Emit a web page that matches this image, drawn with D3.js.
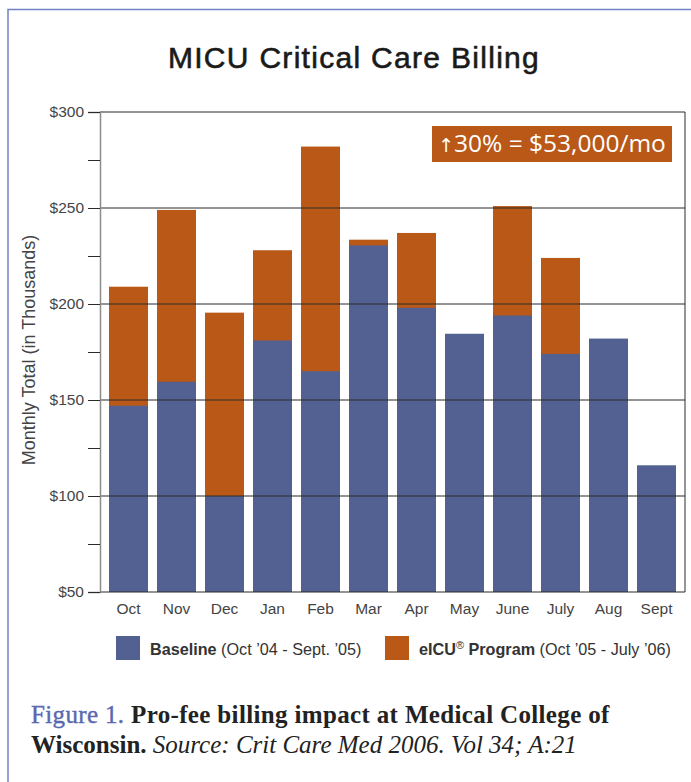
<!DOCTYPE html>
<html>
<head>
<meta charset="utf-8">
<script src="https://cdn.jsdelivr.net/npm/d3@7"></script>
<style>
  body { margin: 0; background: #fff; }
  svg { display: block; }
</style>
</head>
<body>
<div id="chart"></div>
<script>
// monthly totals, in thousands of dollars
const months = ["Oct", "Nov", "Dec", "Jan", "Feb", "Mar", "Apr", "May", "June", "July", "Aug", "Sept"];
const baseline = [147, 159.5, 100, 181, 165, 230.5, 198, 184.5, 194, 174, 182, 116];
const eicu = [209, 249, 195.5, 228, 282, 233.5, 237, null, 251, 224, null, null];
const majorTicks = [50, 100, 150, 200, 250, 300];
const minorTicks = [75, 125, 175, 225, 275];

const W = 691, H = 782;
const blue = "#526191", orange = "#b95817";
const sans = "'Liberation Sans', Arial, Helvetica, sans-serif";
const serif = "'Liberation Serif', 'Times New Roman', Times, serif";

const svg = d3.select("#chart").append("svg")
    .attr("width", W)
    .attr("height", H);

// outer frame (open on the right and bottom)
svg.append("path")
    .attr("d", `M8,${H} V9.5 H${W}`)
    .attr("fill", "none")
    .attr("stroke", "#7282c4")
    .attr("stroke-width", 1.5);

// title
svg.append("text")
    .attr("x", 354)
    .attr("y", 68)
    .attr("text-anchor", "middle")
    .style("font-family", sans)
    .attr("font-size", 30)
    .attr("letter-spacing", 1.3)
    .attr("fill", "#1a1a1a")
    .attr("stroke", "#1a1a1a")
    .attr("stroke-width", 0.6)
    .text("MICU Critical Care Billing");

const x = d3.scaleBand()
    .domain(months)
    .range([100, 685])
    .paddingInner(0.1875)
    .paddingOuter(0.1875);

const y = d3.scaleLinear()
    .domain([50, 300])
    .range([592, 112]);

// bars: eICU total behind, baseline in front
svg.append("g").selectAll("rect")
    .data(months.map((m, i) => ({ m, v: eicu[i] })).filter(d => d.v != null))
    .join("rect")
    .attr("x", d => x(d.m))
    .attr("width", x.bandwidth())
    .attr("y", d => y(d.v))
    .attr("height", d => y(50) - y(d.v))
    .attr("fill", orange);

svg.append("g").selectAll("rect")
    .data(months.map((m, i) => ({ m, v: baseline[i] })))
    .join("rect")
    .attr("x", d => x(d.m))
    .attr("width", x.bandwidth())
    .attr("y", d => y(d.v))
    .attr("height", d => y(50) - y(d.v))
    .attr("fill", blue);

// gridlines over the bars
svg.append("g").selectAll("line")
    .data(majorTicks)
    .join("line")
    .attr("x1", 100)
    .attr("x2", 685)
    .attr("y1", d => y(d))
    .attr("y2", d => y(d))
    .attr("stroke", "#2b2b2b")
    .attr("stroke-width", 1);

svg.append("line")
    .attr("x1", 685).attr("x2", 685)
    .attr("y1", y(300)).attr("y2", y(50))
    .attr("stroke", "#2b2b2b");

// y axis
const yAxis = svg.append("g")
    .attr("transform", "translate(100,0)")
    .call(d3.axisLeft(y).tickValues(majorTicks).tickSize(12).tickPadding(4).tickFormat(d => "$" + d));
yAxis.select(".domain").attr("stroke", "#8c8c8c").attr("stroke-width", 1.5);
yAxis.selectAll(".tick line").attr("stroke", "#2b2b2b");
yAxis.selectAll("text")
    .style("font-family", sans)
    .attr("font-size", 15.5)
    .attr("fill", "#444");

svg.append("g")
    .attr("transform", "translate(100,0)")
    .call(d3.axisLeft(y).tickValues(minorTicks).tickSize(12).tickFormat(""))
    .call(g => g.select(".domain").remove())
    .selectAll(".tick line").attr("stroke", "#2b2b2b");

svg.append("text")
    .attr("transform", "translate(35,350) rotate(-90)")
    .attr("text-anchor", "middle")
    .style("font-family", sans)
    .attr("font-size", 18)
    .attr("fill", "#444")
    .text("Monthly Total (in Thousands)");

// x labels
svg.append("g").selectAll("text")
    .data(months)
    .join("text")
    .attr("x", d => x(d) + x.bandwidth() / 2)
    .attr("y", 614)
    .attr("text-anchor", "middle")
    .style("font-family", sans)
    .attr("font-size", 15.5)
    .attr("fill", "#444")
    .text(d => d);

// annotation box
const note = svg.append("g");
note.append("rect")
    .attr("x", 432).attr("y", 126)
    .attr("width", 240).attr("height", 36)
    .attr("fill", orange);
const noteText = note.append("text")
    .attr("x", 552)
    .attr("y", 152)
    .attr("text-anchor", "middle")
    .style("font-family", "'Open Sans', sans-serif")
    .attr("font-size", 24.5)
    .attr("fill", "#fff");
noteText.append("tspan").style("font-family", "'DejaVu Sans', sans-serif").attr("font-size", 19).text("↑");
noteText.append("tspan").text("30% = $53,000/mo");

// legend
const legend = [
    { color: blue, x: 116, bold: "Baseline", sup: "", rest: " (Oct ’04 - Sept. ’05)" },
    { color: orange, x: 385, bold: "eICU", sup: "®", rest: " (Oct ’05 - July ’06)" }
];
const lg = svg.append("g").selectAll("g")
    .data(legend)
    .join("g")
    .attr("transform", d => `translate(${d.x},636)`);
lg.append("rect")
    .attr("width", 24).attr("height", 24)
    .attr("fill", d => d.color);
const lt = lg.append("text")
    .attr("x", 34)
    .attr("y", 19)
    .style("font-family", sans)
    .attr("font-size", 16.2)
    .attr("fill", "#333");
lt.append("tspan").attr("font-weight", "bold").text(d => d.bold);
lt.filter(d => d.sup).append("tspan")
    .attr("font-size", 11).attr("dy", -6).text(d => d.sup);
lt.filter(d => d.sup).append("tspan")
    .attr("font-weight", "bold").attr("dy", 6).text(" Program");
lt.append("tspan").text(d => d.rest);

// caption
const cap = svg.append("g")
    .style("font-family", serif)
    .attr("font-size", 25)
    .attr("fill", "#222");
const line1 = cap.append("text").attr("x", 31).attr("y", 723).attr("letter-spacing", 0.35);
line1.append("tspan").attr("fill", "#5a68b0")
    .attr("stroke", "#5a68b0").attr("stroke-width", 0.4).text("Figure 1.");
line1.append("tspan").attr("font-weight", "bold").text(" Pro-fee billing impact at Medical College of");
const line2 = cap.append("text").attr("x", 31).attr("y", 753);
line2.append("tspan").attr("font-weight", "bold").text("Wisconsin.");
line2.append("tspan").attr("font-style", "italic").text(" Source: Crit Care Med 2006. Vol 34; A:21");
</script>
</body>
</html>
